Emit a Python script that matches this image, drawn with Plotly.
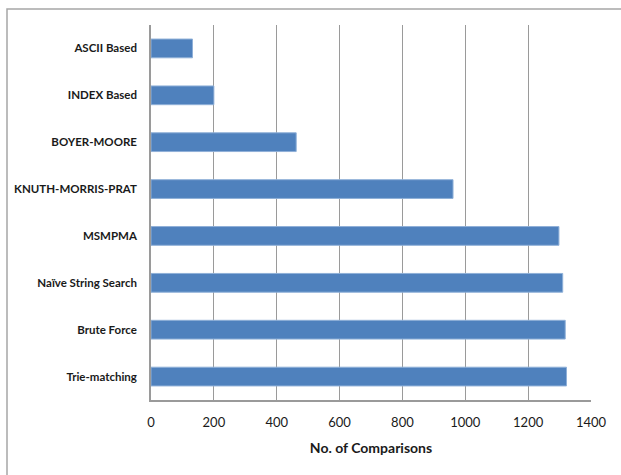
import plotly.graph_objects as go

algorithms = [
    "ASCII Based",
    "INDEX Based",
    "BOYER-MOORE",
    "KNUTH-MORRIS-PRAT",
    "MSMPMA",
    "Naïve String Search",
    "Brute Force",
    "Trie-matching",
]
comparisons = [132, 200, 462, 961, 1298, 1310, 1318, 1322]
x_ticks = [0, 200, 400, 600, 800, 1000, 1200, 1400]

BAR = "#4F81BD"
GRID = "#9a9a9a"
FONT = "Lato, Carlito, Calibri, sans-serif"

fig = go.Figure(
    go.Bar(
        x=comparisons,
        y=algorithms,
        orientation="h",
        marker=dict(color=BAR, line=dict(color="#8fb0d8", width=1)),
        width=0.4,
    )
)

fig.update_layout(
    width=621,
    height=475,
    margin=dict(l=151, r=30, t=25, b=75),
    paper_bgcolor="white",
    plot_bgcolor="white",
    showlegend=False,
    font=dict(family=FONT, color="#1a1a1a"),
    xaxis=dict(
        range=[0, 1400],
        tickvals=x_ticks,
        ticktext=[str(v) for v in x_ticks],
        showgrid=True,
        gridcolor=GRID,
        gridwidth=1.3,
        zeroline=False,
        showline=True,
        linecolor=GRID,
        linewidth=1.5,
        ticks="",
        ticklabelstandoff=10,
        tickfont=dict(size=13, family=FONT, color="#1a1a1a"),
        title=dict(
            text="<b>No. of Comparisons</b>",
            font=dict(size=14, family=FONT, color="#1a1a1a"),
            standoff=14,
        ),
        automargin=False,
        fixedrange=True,
    ),
    yaxis=dict(
        categoryorder="array",
        categoryarray=algorithms,
        autorange="reversed",
        showgrid=False,
        showline=True,
        linecolor=GRID,
        linewidth=1.5,
        ticks="",
        ticklabelstandoff=10,
        tickfont=dict(size=11.5, family=FONT, color="#1a1a1a", weight="bold"),
        automargin=False,
        fixedrange=True,
    ),
    shapes=[
        # outer chart frame, partly running past the page edges
        dict(
            type="rect",
            xref="paper",
            yref="paper",
            x0=(7 - 151) / 440,
            x1=(640 - 151) / 440,
            y0=(400 - 500) / 375,
            y1=(400 - 9) / 375,
            line=dict(color="#a6a6a6", width=1.5),
            fillcolor="rgba(0,0,0,0)",
            layer="below",
        )
    ],
)

fig.write_html("out.html")
